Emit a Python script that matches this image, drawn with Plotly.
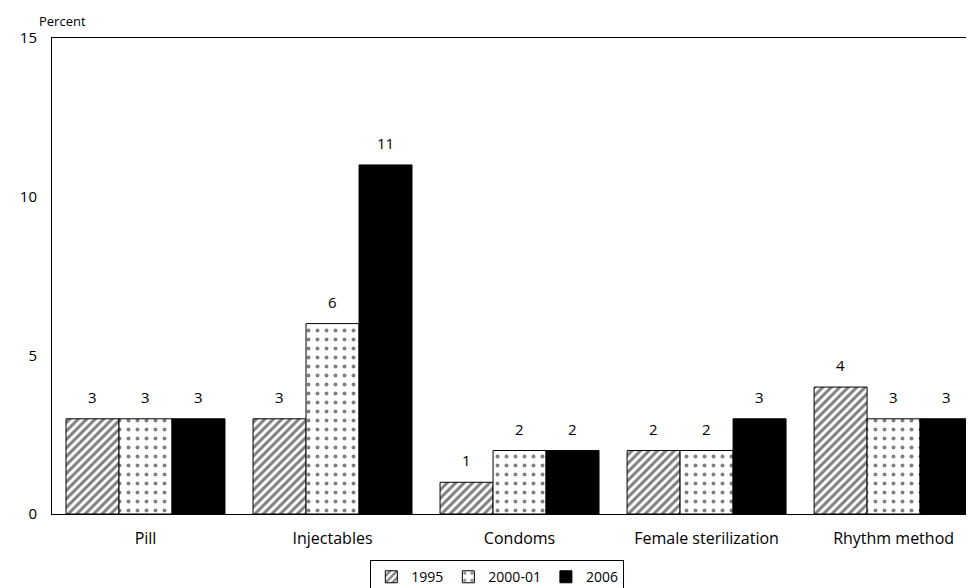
import plotly.graph_objects as go

categories = ["Pill", "Injectables", "Condoms", "Female sterilization", "Rhythm method"]
series_names = ["1995", "2000-01", "2006"]
v1995 = [3, 3, 1, 2, 4]
v2000 = [3, 6, 2, 2, 3]
v2006 = [3, 11, 2, 3, 3]
y_ticks = [0, 5, 10, 15]

FONT = "Open Sans"
BAR_PX = 53  # approximate pixel width of one bar, for label offsets

markers = [
    dict(color="white", line=dict(color="black", width=1),
         pattern=dict(shape="/", size=6, solidity=0.5, fgcolor="black", bgcolor="white")),
    dict(color="white", line=dict(color="black", width=1),
         pattern=dict(shape=".", size=9, solidity=0.15, fgcolor="black", bgcolor="white")),
    dict(color="black", line=dict(color="black", width=1)),
]
values = [v1995, v2000, v2006]

fig = go.Figure()
annotations = []
for i, (name, vals, mk) in enumerate(zip(series_names, values, markers)):
    fig.add_trace(go.Bar(name=name, x=categories, y=vals, marker=mk))
    for c, v in zip(categories, vals):
        annotations.append(dict(
            x=c, y=v, xref="x", yref="y", text=str(v), showarrow=False,
            xanchor="center", yanchor="bottom", xshift=(i - 1) * BAR_PX, yshift=10,
            font=dict(family=FONT, size=15, color="black"),
        ))

annotations.append(dict(text="Percent", xref="paper", yref="paper", x=-0.016, y=1.0,
                        xanchor="left", yanchor="bottom", yshift=6, showarrow=False,
                        font=dict(family=FONT, size=13, color="black")))

fig.update_layout(
    width=966, height=580,
    margin=dict(l=44, r=0, t=30, b=74, autoexpand=False),
    paper_bgcolor="white", plot_bgcolor="white",
    barmode="group", bargap=0.15, bargroupgap=0,
    font=dict(family=FONT, size=14, color="black"),
    showlegend=True,
    legend=dict(orientation="h", x=0.483, xanchor="center", y=-0.097, yanchor="top",
                bordercolor="black", borderwidth=1, font=dict(size=14),
                itemwidth=30, tracegroupgap=0),
    xaxis=dict(range=[-0.5, 4.43], showline=True, linecolor="black", linewidth=1,
               mirror=True, ticks="", showgrid=False, tickfont=dict(size=16),
               ticklabelstandoff=10, automargin=False),
    yaxis=dict(range=[0, 15], tickvals=y_ticks, showline=True, linecolor="black",
               linewidth=1, ticks="", showgrid=False, zeroline=False,
               tickfont=dict(size=15), ticklabelstandoff=11, automargin=False),
    annotations=annotations,
)

fig.write_html("out.html")
